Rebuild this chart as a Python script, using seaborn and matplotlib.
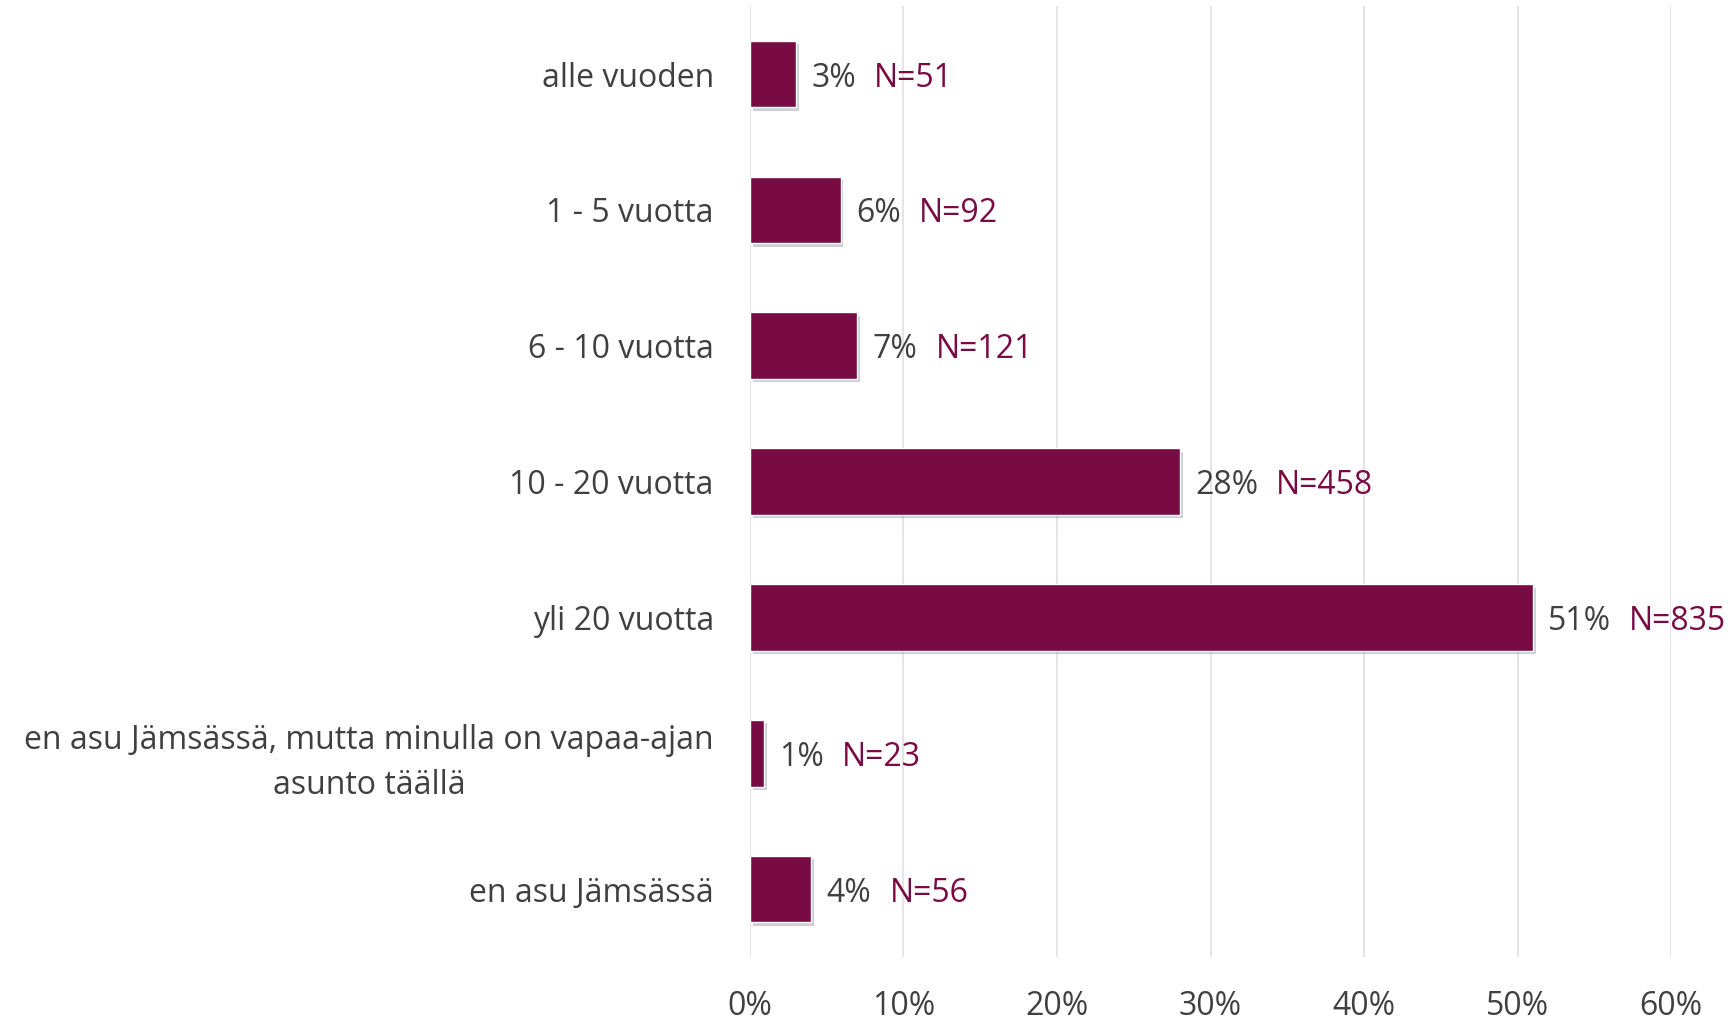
import matplotlib
matplotlib.use("Agg")
import matplotlib.pyplot as plt
import matplotlib.patheffects as pe
import seaborn as sns
from matplotlib.ticker import MultipleLocator, PercentFormatter

categories = [
    "alle vuoden",
    "1 - 5 vuotta",
    "6 - 10 vuotta",
    "10 - 20 vuotta",
    "yli 20 vuotta",
    "en asu Jämsässä, mutta minulla on vapaa-ajan\nasunto täällä",
    "en asu Jämsässä",
]
shares = [3.0, 5.9, 7.0, 28.0, 51.0, 0.9, 4.0]
counts = [51, 92, 121, 458, 835, 23, 56]

bar_color = "#780A44"
text_color = "#404040"
grid_color = "#E3E3E6"
fs = 23

sns.set_style("white")
plt.rcParams["font.family"] = ["Open Sans", "DejaVu Sans"]

fig = plt.figure(figsize=(17.36, 10.23), dpi=100)
ax = fig.add_axes([0.432, 0.0645, 0.5306, 0.9295])

sns.barplot(x=shares, y=categories, orient="h", color=bar_color,
            saturation=1, width=0.49, ax=ax, zorder=3)

for bar in ax.patches:
    bar.set_path_effects([pe.SimplePatchShadow(offset=(2, -2.5), alpha=0.3, shadow_rgbFace="#606060"),
                          pe.Normal()])

ax.set_xlim(0, 60)
ax.xaxis.set_major_locator(MultipleLocator(10))
ax.xaxis.set_major_formatter(PercentFormatter(decimals=0))
ax.grid(axis="x", color=grid_color, linewidth=1.3, zorder=0)
ax.set_axisbelow(True)
for s in ax.spines.values():
    s.set_visible(False)

ax.tick_params(axis="x", length=0, pad=24, labelsize=fs, labelcolor=text_color)
ax.tick_params(axis="y", length=0, pad=26, labelsize=fs, labelcolor=text_color)
for lbl in ax.get_yticklabels():
    lbl.set_multialignment("center")
    lbl.set_linespacing(1.45)
ax.set_xlabel("")
ax.set_ylabel("")

for i, (v, n) in enumerate(zip(shares, counts)):
    t = ax.annotate(f"{round(v)}%", xy=(v, i), xytext=(11, 0), textcoords="offset points",
                    va="center_baseline", ha="left", fontsize=fs, color=text_color)
    ax.annotate(f"N={n}", xy=(1, 0.5), xycoords=t, xytext=(13, 0),
                textcoords="offset points", va="center", ha="left",
                fontsize=fs, color=bar_color)

fig.savefig("out.png", dpi=100, facecolor="white")
